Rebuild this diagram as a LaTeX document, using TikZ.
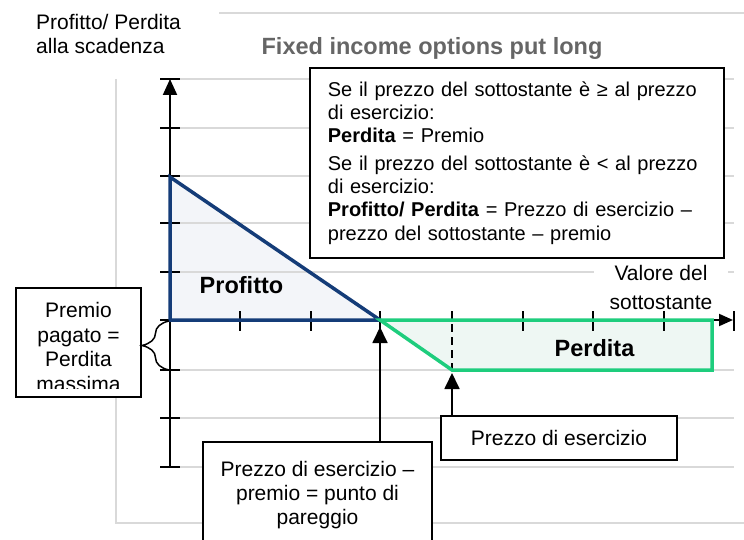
\documentclass[tikz,border=0pt]{standalone}
\usepackage{fontspec}
\setmainfont{Liberation Sans}
\usetikzlibrary{arrows.meta,decorations.pathreplacing}
\definecolor{gridgray}{RGB}{217,217,217}
\definecolor{navy}{RGB}{20,60,120}
\definecolor{navyfill}{RGB}{243,245,249}
\definecolor{mygreen}{RGB}{30,205,125}
\definecolor{greenfill}{RGB}{238,247,243}
\definecolor{titlegray}{RGB}{102,102,102}
\begin{document}
\begin{tikzpicture}[x=1pt,y=-1pt,
  gridline/.style={draw=gridgray,line width=1.5pt},
  axisline/.style={line width=2pt},
  tickline/.style={line width=2pt},
  arr/.style={line width=1.8pt,-{Triangle[length=16pt,width=15pt]}},
  infobox/.style={draw,line width=1.8pt,fill=white},
  txt/.style={font=\fontsize{21}{24}\selectfont},
  boldlabel/.style={font=\bfseries\fontsize{23.5}{26}\selectfont,inner sep=0pt},
]
\useasboundingbox (0,0) rectangle (744,540);
\clip (0,0) rectangle (744,540);

% fills
\path[fill=navyfill] (170,177) -- (170,320) -- (380,320) -- cycle;
\path[fill=greenfill] (380,320) -- (712,320) -- (712,370) -- (452,370) -- cycle;

% grid
\foreach \y in {79,128,176,223,272,370,418,467} \draw[gridline] (170,\y) -- (734,\y);
\draw[gridline] (219,13) -- (744,13);
\draw[gridline] (116,79) -- (116,523) -- (744,523);

% x-axis caption with white background
\node[fill=white,font=\fontsize{21}{29}\selectfont,align=center,minimum width=134pt,inner ysep=1pt] (valore) at (661,287) {Valore del\\sottostante};

% info box
\node[infobox,anchor=north west,text width=378pt,inner xsep=18pt,inner ysep=3pt,minimum height=190pt,align=left,font=\fontsize{20}{23.3}\selectfont] (info) at (309,67)
{Se il prezzo del sottostante è ≥ al prezzo\\
di esercizio:\\
\textbf{Perdita} = Premio\\[4pt]
Se il prezzo del sottostante è < al prezzo\\
di esercizio:\\
\textbf{Profitto/ Perdita} = Prezzo di esercizio –\\
prezzo del sottostante – premio};

% axes
\draw[axisline,-{Triangle[length=16pt,width=14pt]}] (170,467) -- (170,79);
\draw[axisline,-{Triangle[length=14pt,width=12pt]}] (170,320) -- (733,320);
\foreach \y in {79,128,176,223,272,320,370,418,467} \draw[tickline] (160,\y) -- (180,\y);
\foreach \x in {240,311,380,523,593,664,734} \draw[tickline] (\x,311) -- (\x,331);
\draw[tickline,dash pattern=on 8pt off 5pt] (452,311) -- (452,370);

% payoff shapes
\draw[navy,line width=3.5pt,line join=miter] (170,177) -- (170,320) -- (380,320) -- cycle;
\draw[mygreen,line width=3.5pt,line join=miter] (380,320) -- (712,320) -- (712,370) -- (452,370) -- cycle;

\coordinate (breakeven) at (380,320);
\coordinate (strike) at (452,370);

% labels
\node[boldlabel] (profitto) at (241.5,285) {Profitto};
\node[boldlabel] (perdita) at (594.5,348) {Perdita};
\node[boldlabel,text=titlegray] (title) at (432,48) {Fixed income options put long};
\node[txt,align=left,anchor=west,inner sep=0pt] (ylabel) at (36,33.5) {Profitto/ Perdita\\alla scadenza};

% premium box with brace
\node[infobox,minimum width=125pt,minimum height=109pt] (premio) at (78.5,342.5) {};
\begin{scope}
\clip (16,288) rectangle (141,388);
\node[font=\fontsize{21}{24.7}\selectfont,align=center,inner sep=0pt] (premiotxt) at (78.5,347) {Premio\\pagato =\\Perdita\\massima};
\end{scope}
\draw[line width=1.5pt,decorate,decoration={brace,amplitude=27pt}] (169,370) -- (169,321);

% strike box
\node[infobox,txt,minimum width=236pt,minimum height=44pt] (strikebox) at (559,438) {Prezzo di esercizio};
\draw[arr,shorten >=3pt] (strikebox.north -| strike) -- (strike);

% break-even box
\node[infobox,txt,align=center,anchor=north,minimum width=229pt,minimum height=106pt] (bep) at (317.5,441) {Prezzo di esercizio –\\premio = punto di\\pareggio};
\draw[arr,shorten >=7pt] (bep.north -| breakeven) -- (breakeven);
\end{tikzpicture}
\end{document}
